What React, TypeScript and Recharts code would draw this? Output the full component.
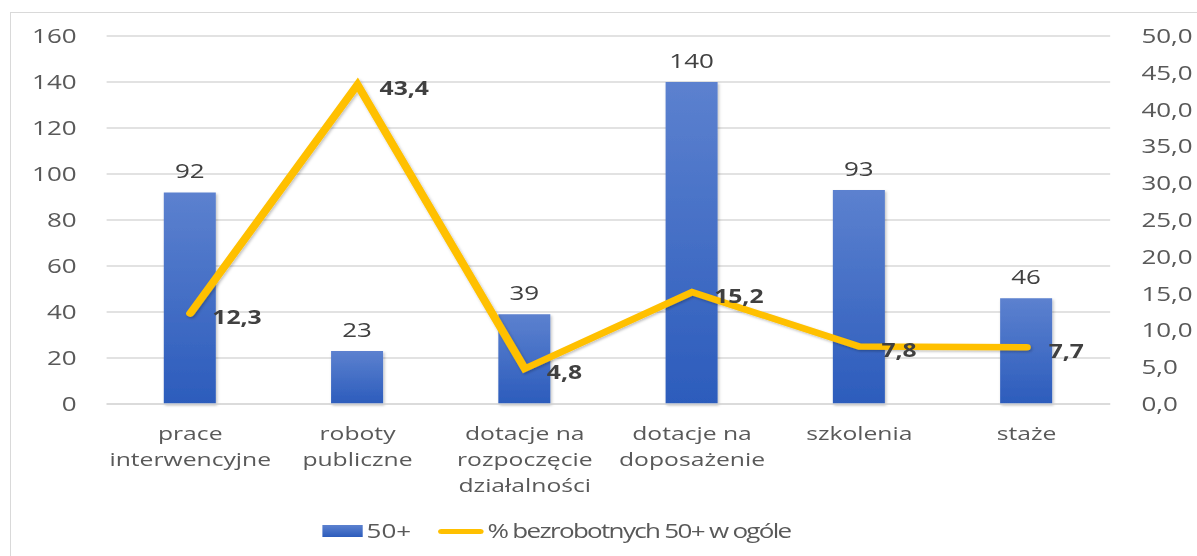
import { ComposedChart, Bar, Line, XAxis, YAxis, CartesianGrid, LabelList } from 'recharts';

const categories = [
  'prace\ninterwencyjne',
  'roboty\npubliczne',
  'dotacje na\nrozpoczęcie\ndziałalności',
  'dotacje na\ndoposażenie',
  'szkolenia',
  'staże',
];
const count50 = [92, 23, 39, 140, 93, 46];
const percent50 = [12.3, 43.4, 4.8, 15.2, 7.8, 7.7];
const leftTicks = [0, 20, 40, 60, 80, 100, 120, 140, 160];
const rightTicks = [0, 5, 10, 15, 20, 25, 30, 35, 40, 45, 50];

const data = categories.map((name, i) => ({ name, count: count50[i], pct: percent50[i] }));

const STRETCH = 1.3;
const FONT = '"Open Sans", sans-serif';
const fmt = (v: number) => v.toFixed(1).replace('.', ',');

const CategoryTick = (props: any) => {
  const { x, y, payload } = props;
  const lines = String(payload.value).split('\n');
  return (
    <g>
      {lines.map((line, i) => (
        <text
          key={i}
          x={x}
          y={y + 28 + i * 26}
          textAnchor="middle"
          dominantBaseline="central"
          fill="#595959"
          fontSize={19}
          fontFamily={FONT}
        >
          {line}
        </text>
      ))}
    </g>
  );
};

const PctLabel = (props: any) => {
  const { x, y, value } = props;
  return (
    <text
      x={x + 17}
      y={y + 3}
      dominantBaseline="central"
      fill="#404040"
      fontSize={19}
      fontWeight={700}
      fontFamily={FONT}
    >
      {fmt(Number(value))}
    </text>
  );
};

export default function App() {
  return (
    <div style={{ position: 'absolute', left: 0, top: 0, width: 1197, height: 556, overflow: 'hidden', background: '#fff' }}>
      <div style={{ position: 'absolute', left: 10, top: 12, width: 1300, height: 700, border: '1px solid #D9D9D9' }} />
      <div style={{ position: 'absolute', left: 0, top: 0, width: 921, height: 556, transform: `scaleX(${STRETCH})`, transformOrigin: '0 0' }}>
        <ComposedChart width={921} height={556} data={data} margin={{ top: 36, right: 0, left: 0, bottom: 0 }}>
          <defs>
            <linearGradient id="barFill" x1="0" y1="0" x2="0" y2="1">
              <stop offset="0%" stopColor="#5C81CF" />
              <stop offset="100%" stopColor="#2C5CBC" />
            </linearGradient>
            <filter id="shadow" x="-20%" y="-20%" width="140%" height="140%">
              <feDropShadow dx="1" dy="1.5" stdDeviation="1.2" floodColor="#000" floodOpacity="0.25" />
            </filter>
          </defs>
          <CartesianGrid vertical={false} stroke="#D9D9D9" strokeWidth={1.5} yAxisId="left" />
          <XAxis
            dataKey="name"
            height={152}
            axisLine={{ stroke: '#D9D9D9', strokeWidth: 1.5 }}
            tickLine={false}
            tickSize={0}
            tickMargin={0}
            interval={0}
            tick={<CategoryTick />}
          />
          <YAxis
            yAxisId="left"
            width={82}
            domain={[0, 160]}
            ticks={leftTicks}
            axisLine={false}
            tickLine={false}
            tickSize={0}
            tickMargin={23}
            tick={{ fill: '#595959', fontSize: 20, fontFamily: FONT }}
          />
          <YAxis
            yAxisId="right"
            orientation="right"
            width={67}
            domain={[0, 50]}
            ticks={rightTicks}
            axisLine={false}
            tickLine={false}
            tickSize={0}
            tickMargin={24}
            tickFormatter={fmt}
            tick={{ fill: '#595959', fontSize: 20, fontFamily: FONT, textAnchor: 'start' }}
          />
          <Bar yAxisId="left" dataKey="count" fill="url(#barFill)" barSize={40} filter="url(#shadow)" isAnimationActive={false}>
            <LabelList dataKey="count" position="top" offset={14} fill="#404040" fontSize={20} fontFamily={FONT} />
          </Bar>
          <Line
            yAxisId="right"
            dataKey="pct"
            type="linear"
            stroke="#FFC000"
            strokeWidth={6.5}
            strokeLinecap="round"
            dot={false}
            activeDot={false}
            filter="url(#shadow)"
            isAnimationActive={false}
          >
            <LabelList dataKey="pct" content={<PctLabel />} />
          </Line>
        </ComposedChart>
        <div style={{ position: 'absolute', left: 0, top: 516, width: 921, height: 30, fontFamily: FONT, fontSize: 20, color: '#595959' }}>
          <div style={{ position: 'absolute', left: 247.5, top: 9, width: 31.5, height: 12, background: 'linear-gradient(#5C81CF, #2C5CBC)' }} />
          <div style={{ position: 'absolute', left: 282, top: 0, lineHeight: '30px' }}>50+</div>
          <div style={{ position: 'absolute', left: 337, top: 13, width: 35, height: 5, borderRadius: 3, background: '#FFC000' }} />
          <div style={{ position: 'absolute', left: 375, top: 0, lineHeight: '30px', whiteSpace: 'nowrap', letterSpacing: '-1.3px' }}>
            % bezrobotnych 50+ w ogóle
          </div>
        </div>
      </div>
    </div>
  );
}
